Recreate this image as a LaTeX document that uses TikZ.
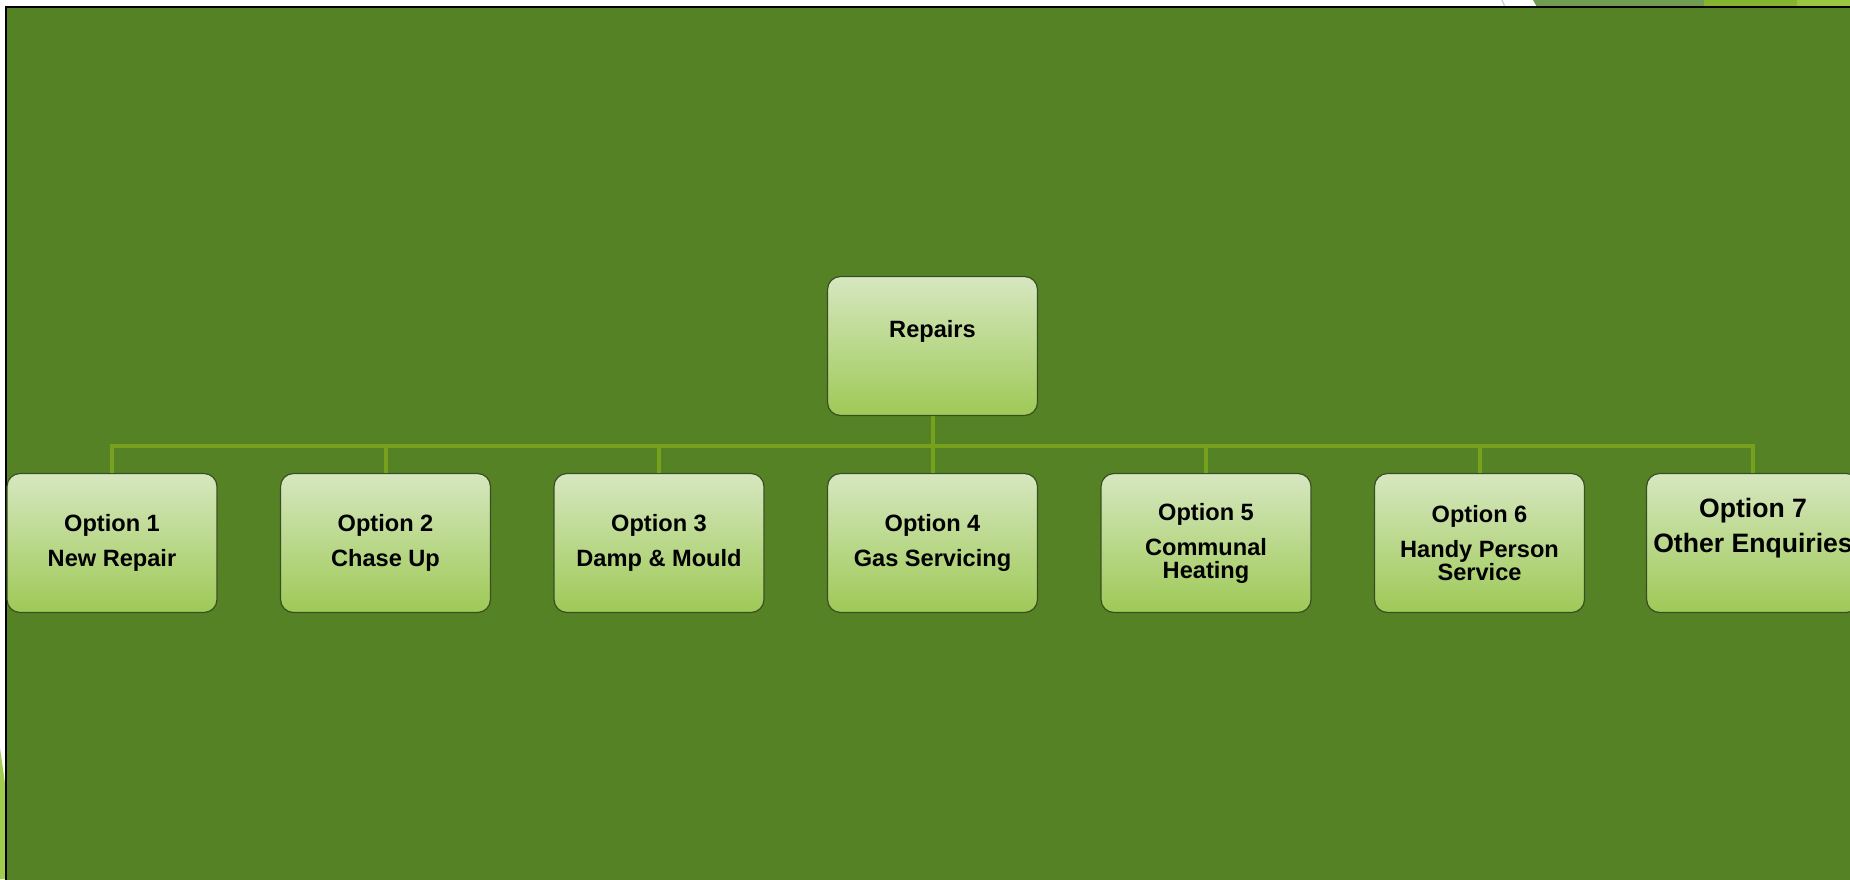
\documentclass[tikz,border=0pt]{standalone}
\usepackage{fontspec}
\setmainfont{Liberation Sans}
\usetikzlibrary{positioning, calc, shapes}

\definecolor{slidegreen}{RGB}{85,130,37}
\definecolor{linkgreen}{RGB}{119,161,28}
\definecolor{boxtop}{RGB}{214,231,192}
\definecolor{boxbot}{RGB}{158,201,86}
\definecolor{boxline}{RGB}{58,78,36}
\definecolor{stripa}{RGB}{111,156,80}
\definecolor{stripb}{RGB}{133,180,48}
\definecolor{stripc}{RGB}{152,198,62}
\definecolor{stripd}{RGB}{162,204,78}

\newcommand{\optfont}{\fontsize{11.8}{17.5}\selectfont\bfseries}
\newcommand{\bigoptfont}{\fontsize{13.3}{17.5}\selectfont\bfseries}

\begin{document}
\begin{tikzpicture}[x=0.5pt, y=-0.5pt,
    level distance=98.5pt, sibling distance=136.75pt,
    menubox/.style={draw=boxline, line width=0.6pt, rounded corners=6.5pt,
      top color=boxtop, bottom color=boxbot,
      minimum width=105pt, minimum height=69.5pt,
      align=center, font=\optfont, text=black},
    edge from parent/.style={draw=linkgreen, line width=2pt},
    edge from parent path={(\tikzparentnode.south) -- ++(0,-15pt) -| (\tikzchildnode.north)}]
  \useasboundingbox (0,0) rectangle (1850,879);
  % slide background
  \fill[white] (0,0) rectangle (1850,879);
  \draw[gray!40, line width=0.6pt] (1502,0) -- (1505,7);
  \fill[stripa] (1533,0) -- (1704,0) -- (1704,7) -- (1537,7) -- cycle;
  \fill[stripb] (1704,0) rectangle (1797,7);
  \fill[stripc] (1797,0) rectangle (1850,7);
  \fill[stripd] (0,748) -- (6,790) -- (6,879) -- (0,879) -- cycle;
  \draw[black, line width=1pt, fill=slidegreen] (6,7) rectangle (1870,900);

  % menu tree
  \node[menubox] (repairs) at (932.5,346) {Repairs\\ \mbox{}}
    child {node[menubox] (opt1) {Option 1\\New Repair}}
    child {node[menubox] (opt2) {Option 2\\Chase Up}}
    child {node[menubox] (opt3) {Option 3\\Damp \& Mould}}
    child {node[menubox] (opt4) {Option 4\\Gas Servicing}}
    child {node[menubox] (opt5) {Option 5\\Communal\\[-6pt]Heating}}
    child {node[menubox] (opt6) {Option 6\\Handy Person\\[-6pt]Service}}
    child {node[menubox, font=\bigoptfont] (opt7) {Option 7\\Other Enquiries\\ \mbox{}}}
  ;
\end{tikzpicture}
\end{document}
